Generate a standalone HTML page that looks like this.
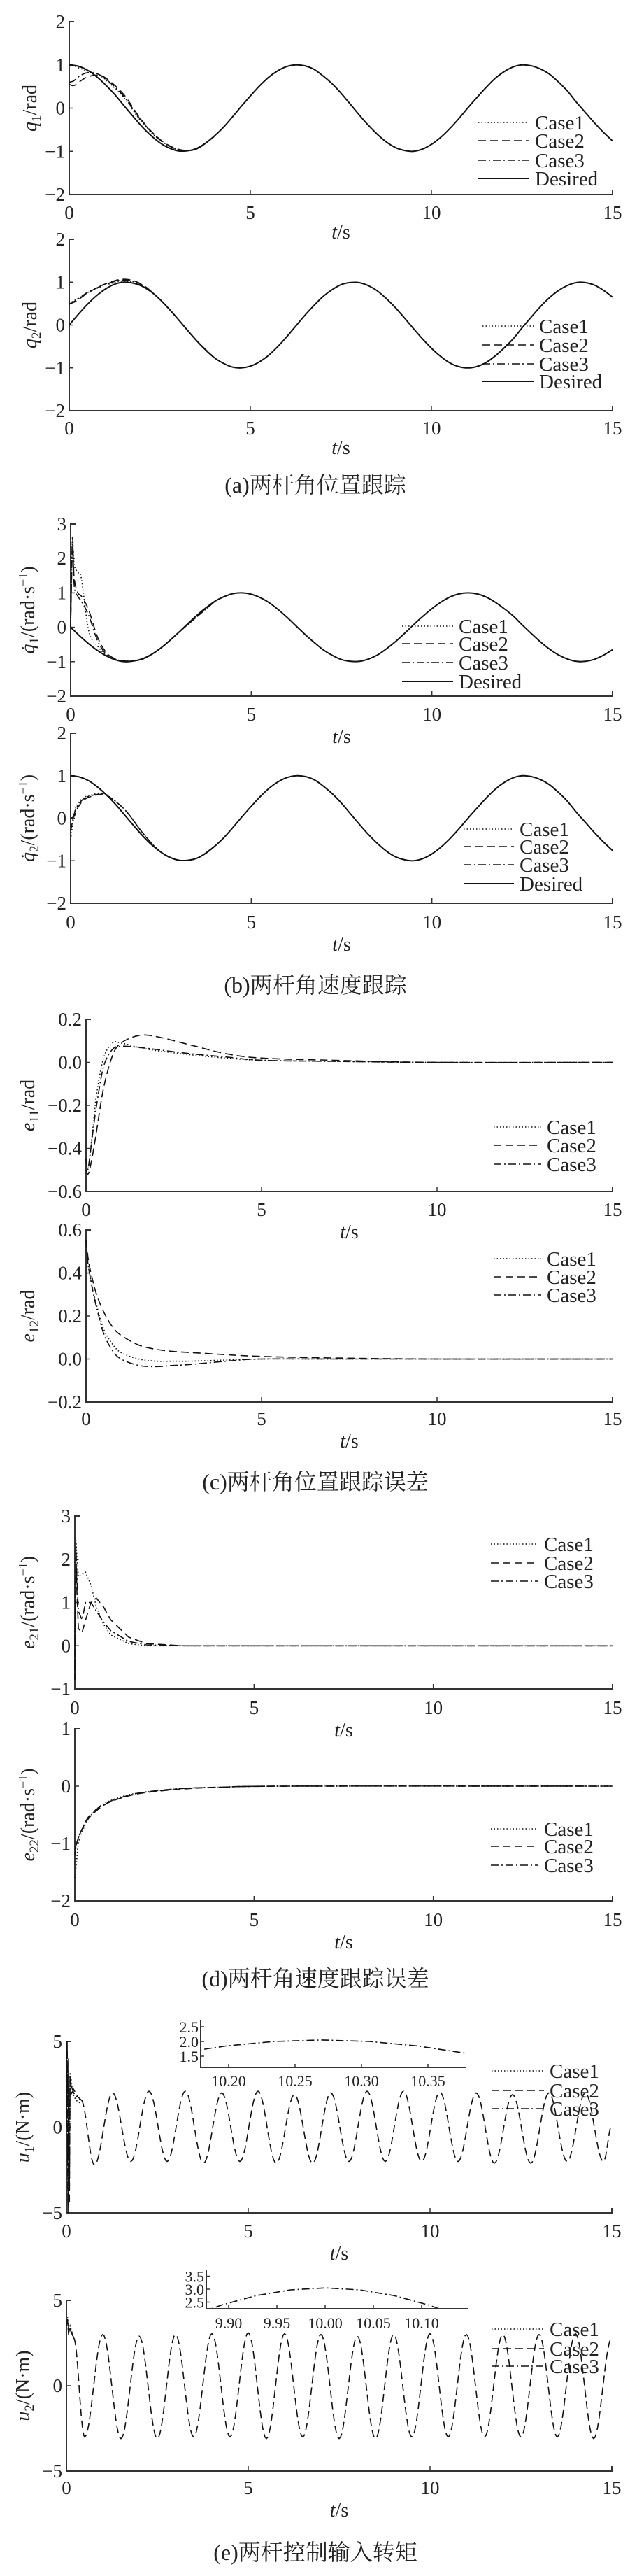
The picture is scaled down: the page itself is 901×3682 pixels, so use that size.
<!DOCTYPE html>
<html><head><meta charset="utf-8"><style>
html,body{margin:0;padding:0;background:#fff;}
svg{display:block;}
text{font-family:"Liberation Serif","Noto Serif CJK SC",serif;fill:#222;}
</style></head><body>
<svg id="fig" width="901" height="3682" viewBox="0 0 901 3682" xmlns="http://www.w3.org/2000/svg"></svg>
<script>
// ---------- data ----------
const cosVals=[1.00,0.97,0.88,0.73,0.54,0.32,0.07,-0.18,-0.42,-0.63,-0.80,-0.92,-0.99,-0.99,-0.94,-0.82,-0.65,-0.45,-0.21,0.04,0.28,0.51,0.71,0.86,0.96,1.00,0.98,0.90,0.75,0.57,0.35,0.10,-0.15,-0.39,-0.60,-0.78,-0.91,-0.98,-1.00,-0.95,-0.84,-0.68,-0.48,-0.25,0.00,0.24,0.47,0.68,0.84,0.95,1.00,0.98,0.91,0.79,0.61,0.40,0.14,-0.10,-0.34,-0.56,-0.76];
const sinVals=[0,0.25,0.48,0.68,0.84,0.95,1.00,0.98,0.91,0.78,0.60,0.38,0.14,-0.11,-0.35,-0.57,-0.76,-0.89,-0.98,-1.00,-0.96,-0.86,-0.71,-0.51,-0.28,-0.03,0.22,0.45,0.66,0.82,0.94,0.99,0.99,0.92,0.80,0.62,0.41,0.17,-0.08,-0.32,-0.54,-0.73,-0.88,-0.97,-1.00,-0.97,-0.88,-0.73,-0.54,-0.33,-0.07,0.18,0.42,0.63,0.80,0.92,0.99,0.99,0.93,0.81,0.65];
const negSinVals=sinVals.map(v=>-v);
const desiredStep=0.25;

const q1T=[0,0.1,0.2,0.3,0.5,0.75,1,1.5,2,2.5,3,3.5,4];
const q1C1=[1.0,0.98,0.95,0.92,0.86,0.8,0.66,0.25,-0.32,-0.74,-0.96,-0.95,-0.66];
const q1C2=[0.55,0.52,0.55,0.62,0.72,0.76,0.7,0.32,-0.28,-0.72,-0.95,-0.95,-0.66];
const q1C3=[0.6,0.62,0.68,0.75,0.82,0.8,0.68,0.28,-0.3,-0.73,-0.96,-0.95,-0.66];
const q2C1=[0.5,0.55,0.6,0.65,0.75,0.85,0.93,1.03,0.93,0.6,0.14,-0.35,-0.76];
const q2C2=[0.5,0.52,0.56,0.62,0.74,0.86,0.96,1.07,0.95,0.6,0.14,-0.35,-0.76];
const q2C3=[0.48,0.53,0.58,0.64,0.76,0.86,0.95,1.05,0.94,0.6,0.14,-0.35,-0.76];

const qd1T=[0,0.05,0.1,0.2,0.3,0.5,0.75,1,1.25,1.5,2,2.5,3,4];
const qd1C1=[0,2.5,1.8,1.6,1.4,-0.1,-0.55,-0.82,-0.93,-0.98,-0.92,-0.6,-0.14,0.76];
const qd1C2=[0,2.2,1.4,1.0,0.9,0.5,-0.3,-0.75,-0.92,-0.98,-0.92,-0.6,-0.14,0.76];
const qd1C3=[0,2.6,1.2,0.9,0.75,0.35,-0.4,-0.8,-0.94,-0.99,-0.92,-0.6,-0.14,0.76];
const qd2T=[0,0.1,0.2,0.4,0.75,1,1.5,2,2.5,3,3.5,4];
const qd2C1=[-0.5,0.1,0.35,0.5,0.58,0.55,0.2,-0.35,-0.8,-0.99,-0.94,-0.65];
const qd2C2=[0,0.05,0.25,0.45,0.55,0.53,0.2,-0.35,-0.8,-0.99,-0.94,-0.65];
const qd2C3=[-0.3,0.1,0.3,0.48,0.56,0.54,0.2,-0.35,-0.8,-0.99,-0.94,-0.65];

const e11T=[0,0.05,0.1,0.2,0.3,0.5,0.75,1,1.5,2,3,4,5,7,10,15];
const e11C1=[-0.45,-0.5,-0.45,-0.3,-0.15,0.02,0.09,0.09,0.07,0.055,0.035,0.02,0.01,0.005,0,0];
const e11C2=[-0.5,-0.52,-0.5,-0.42,-0.32,-0.12,0.03,0.09,0.125,0.12,0.08,0.04,0.02,0.01,0,0];
const e11C3=[-0.45,-0.5,-0.45,-0.32,-0.2,-0.02,0.06,0.075,0.07,0.06,0.04,0.025,0.01,0.005,0,0];
const e12T=[0,0.05,0.1,0.2,0.3,0.5,0.75,1,1.5,2,2.5,3,4,5,7,10,15];
const e12C1=[0.55,0.45,0.4,0.32,0.25,0.14,0.07,0.03,0.0,-0.01,-0.01,-0.01,-0.005,0,0,0,0];
const e12C2=[0.55,0.48,0.43,0.36,0.3,0.22,0.15,0.11,0.065,0.045,0.035,0.03,0.02,0.012,0.005,0,0];
const e12C3=[0.55,0.45,0.4,0.31,0.24,0.12,0.04,0.0,-0.03,-0.035,-0.03,-0.025,-0.01,0,0,0,0];

const e21T=[0,0.03,0.06,0.1,0.2,0.3,0.45,0.6,0.8,1,1.5,2,3,5,15];
const e21C1=[-0.5,2.5,2.0,1.6,1.65,1.7,1.4,0.9,0.5,0.25,0.05,0,0,0,0];
const e21C2=[-0.8,2.2,1.2,0.4,0.3,0.6,1.0,1.1,0.9,0.6,0.2,0.05,0,0,0];
const e21C3=[-0.6,2.3,1.5,0.8,0.6,1.0,1.0,0.8,0.55,0.35,0.1,0.02,0,0,0];
const e22T=[0,0.05,0.1,0.2,0.4,0.7,1,1.5,2,3,4,6,15];
const e22C1=[-1.6,-1.3,-1.0,-0.8,-0.55,-0.35,-0.25,-0.15,-0.1,-0.04,-0.02,0,0];
const e22C2=[-1.2,-1.0,-0.9,-0.75,-0.55,-0.38,-0.27,-0.17,-0.11,-0.05,-0.02,0,0];
const e22C3=[-1.1,-1.0,-0.9,-0.75,-0.52,-0.36,-0.26,-0.16,-0.1,-0.04,-0.02,0,0];

const u1SpikeT=[0,0.02,0.04,0.06,0.08,0.1,0.15,0.2,0.3,0.4];
const u1SpikeC1=[0,4.5,-4,3.5,-3,3.2,2.5,1.8,1.5,1.4];
const u1SpikeC2=[0,5,-5,4,-4.5,3,2,2.2,1.8,1.6];
const u1SpikeC3=[0,4.8,-4.6,3.8,-3.6,2.8,2.3,2.0,1.7,1.6];
const u1ExtT=[0.4,0.77,1.27,1.77,2.27,2.77,3.27,3.77,4.27,4.77,5.27,5.77,6.27,6.77,7.27,7.77,8.27,8.77,9.27,9.77,10.27,10.77,11.27,11.77,12.27,12.77,13.27,13.77,14.27,14.77,15.0];
const u1ExtV=[1.6,-2.2,2.0,-2.0,2.1,-2.0,2.1,-2.1,2.0,-2.0,2.1,-2.1,1.9,-2.1,2.0,-2.0,2.1,-2.0,2.1,-2.0,2.05,-2.0,2.0,-2.1,1.9,-2.1,2.0,-2.0,2.0,-2.0,0.1];
const u2SpikeT=[0,0.03,0.06,0.1,0.2];
const u2SpikeC1=[3.8,4.0,3.2,3.5,2.8];
const u2SpikeC2=[3.5,3.8,3.0,3.3,2.8];
const u2SpikeC3=[3.6,3.9,3.1,3.4,2.8];
const u2ExtT=[0.2,0.5,1,1.5,2,2.5,3,3.5,4,4.5,5,5.5,6,6.5,7,7.5,8,8.5,9,9.5,10,10.5,11,11.5,12,12.5,13,13.5,14,14.5,15];
const u2ExtV=[2.8,-3.0,3.0,-3.1,2.9,-3.1,3.0,-3.0,3.05,-3.0,3.1,-3.1,3.05,-3.0,3.0,-3.1,2.9,-3.1,3.0,-3.0,3.05,-3.0,3.0,-3.0,3.0,-3.0,3.0,-3.0,3.05,-3.1,2.8];

const xTicks=[0,5,10,15];
const legendLabels4=['Case1','Case2','Case3','Desired'];
const legendLabels3=['Case1','Case2','Case3'];
const inset1Ticks=[10.20,10.25,10.30,10.35];
const inset1YTicks=[1.5,2.0,2.5];
const inset2Ticks=[9.90,9.95,10.00,10.05,10.10];
const inset2YTicks=[2.5,3.0,3.5];

// ---------- drawing ----------
const NS='http://www.w3.org/2000/svg';
const svg=document.getElementById('fig');
function mk(tag,attrs,parent){const e=document.createElementNS(NS,tag);for(const k in attrs)e.setAttribute(k,attrs[k]);(parent||svg).appendChild(e);return e;}
const STY={c1:{'stroke-dasharray':'1.5,3'},c2:{'stroke-dasharray':'11,6'},c3:{'stroke-dasharray':'11,4,2,4'},d:{}};
function fmt(v,dec){const s=Math.abs(v).toFixed(dec);return (v<0?'\u2212':'')+s;}
function curvePath(pts){
  if(pts.length<2)return '';
  let d='M'+pts[0][0].toFixed(1)+','+pts[0][1].toFixed(1);
  for(let i=0;i<pts.length-1;i++){
    const p0=pts[i-1]||pts[i],p1=pts[i],p2=pts[i+1],p3=pts[i+2]||p2;
    const c1=[p1[0]+(p2[0]-p0[0])/6,p1[1]+(p2[1]-p0[1])/6];
    const c2=[p2[0]-(p3[0]-p1[0])/6,p2[1]-(p3[1]-p1[1])/6];
    d+='C'+c1[0].toFixed(1)+','+c1[1].toFixed(1)+' '+c2[0].toFixed(1)+','+c2[1].toFixed(1)+' '+p2[0].toFixed(1)+','+p2[1].toFixed(1);
  }
  return d;
}
function linePath(pts){return pts.map((p,i)=>(i?'L':'M')+p[0].toFixed(1)+','+p[1].toFixed(1)).join('');}
function extremaPts(T,V,sx,sy){
  const pts=[];
  for(let i=0;i<T.length-1;i++){
    for(let k=0;k<14;k++){const f=k/14;const v=V[i]+(V[i+1]-V[i])*(1-Math.cos(Math.PI*f))/2;pts.push([sx(T[i]+(T[i+1]-T[i])*f),sy(v)]);}
  }
  pts.push([sx(T[T.length-1]),sy(V[V.length-1])]);
  return pts;
}
function seriesPath(g,d,style,w,name){
  const p=mk('path',Object.assign({d:d,fill:'none',stroke:'#111','stroke-width':w||1.6},STY[style]),g);
  
  
  return p;
}

function panel(cfg){
  const g=mk('g',{});
  
  
  const sx=t=>cfg.x0+t/15*(cfg.x1-cfg.x0);
  const sy=v=>cfg.yA+(v-cfg.vA)*(cfg.yB-cfg.yA)/(cfg.vB-cfg.vA);
  const ax=mk('path',{d:'M'+(cfg.x0+7)+','+cfg.yA+'H'+cfg.x0+'V'+cfg.yB+'H'+cfg.x1+'v-7',fill:'none',stroke:'#333','stroke-width':2},g);
  
  
  cfg.yTicks.forEach(v=>{
    const y=sy(v);
    const tk=mk('line',{x1:cfg.x0,x2:cfg.x0+6,y1:y,y2:y,stroke:'#333','stroke-width':1.5},g);
    
    
    const tl=mk('text',{x:cfg.x0-6,y:y+9,'text-anchor':'end','font-size':27},g);
    
    
    tl.textContent=fmt(v,cfg.dec);
  });
  xTicks.forEach(t=>{
    const x=sx(t);
    if(t>0&&t<15){const tk=mk('line',{x1:x,x2:x,y1:cfg.yB,y2:cfg.yB-7,stroke:'#333','stroke-width':1.5},g);
      
      }
    const tl=mk('text',{x:x,y:cfg.xlabY+10,'text-anchor':'middle','font-size':27},g);
    
    
    tl.textContent=String(t);
  });
  const xt=mk('text',{x:(cfg.x0+cfg.x1)/2,y:cfg.xlabY+(cfg.tsOff||42),'text-anchor':'middle','font-size':28},g);
  
  
  xt.innerHTML='<tspan font-style="italic">t</tspan>/s';
  const yt=mk('text',{x:0,y:0,'text-anchor':'middle','font-size':28,transform:'translate('+(cfg.ylabX+9)+','+((cfg.yA+cfg.yB)/2)+') rotate(-90)'},g);
  
  
  yt.innerHTML=cfg.ylab;
  cfg.series.forEach(s=>{
    let pts;
    if(s.step){pts=s.v.map((v,i)=>[sx(i*s.step),sy(v)]);seriesPath(g,curvePath(pts),s.style,s.w,s.name);}
    else if(s.ext){seriesPath(g,linePath(extremaPts(s.t,s.v,sx,sy)),s.style,s.w,s.name);}
    else if(s.lin){pts=s.t.map((t,i)=>[sx(t),sy(s.v[i])]);seriesPath(g,linePath(pts),s.style,s.w,s.name);}
    else {pts=s.t.map((t,i)=>[sx(t),sy(s.v[i])]);seriesPath(g,curvePath(pts),s.style,s.w,s.name);}
  });
  const lg=mk('g',{},g);
  
  
  cfg.legend.labels.forEach((lab,i)=>{
    const y=cfg.legend.ys[i];
    const st=['c1','c2','c3','d'][i];
    const ln=mk('line',Object.assign({x1:cfg.legend.lx,x2:cfg.legend.tx-8,y1:y,y2:y,stroke:'#111','stroke-width':st==='d'?2:1.6},STY[st]),lg);
    
    
    const tx=mk('text',{x:cfg.legend.tx,y:y+10,'font-size':29},lg);
    
    
    tx.textContent=lab;
  });
  return g;
}

function caption(txt,y,name){
  const c=mk('text',{x:451,y:y+11,'text-anchor':'middle','font-size':32});
  
  
  c.textContent=txt;
}

const lab=(v,sub,unit,dot)=>'<tspan font-style="italic">'+v+(dot?'\u0307':'')+'</tspan><tspan font-size="19" dy="6">'+sub+'</tspan><tspan dy="-6">/'+unit+'</tspan>';
const rads='(rad·s<tspan font-size="18" dy="-10">\u22121</tspan><tspan dy="10">)</tspan>';

panel({name:'q1-panel',x0:99,x1:876,yA:31,vA:2,yB:278,vB:-2,yTicks:[-2,-1,0,1,2],dec:0,xlabY:303,tsOff:38,ylabX:43,ylab:lab('q','1','rad'),
  legend:{labels:legendLabels4,ys:[175,201,229,255],lx:684,tx:765},
  series:[{step:desiredStep,v:cosVals,style:'d',w:2,name:'q1-desired'},{t:q1T,v:q1C1,style:'c1',name:'q1-case1'},{t:q1T,v:q1C2,style:'c2',name:'q1-case2'},{t:q1T,v:q1C3,style:'c3',name:'q1-case3'}]});
panel({name:'q2-panel',x0:99,x1:876,yA:342,vA:2,yB:587,vB:-2,yTicks:[-2,-1,0,1,2],dec:0,xlabY:611,tsOff:38,ylabX:43,ylab:lab('q','2','rad'),
  legend:{labels:legendLabels4,ys:[466,493,520,545],lx:690,tx:771},
  series:[{step:desiredStep,v:sinVals,style:'d',w:2,name:'q2-desired'},{t:q1T,v:q2C1,style:'c1',name:'q2-case1'},{t:q1T,v:q2C2,style:'c2',name:'q2-case2'},{t:q1T,v:q2C3,style:'c3',name:'q2-case3'}]});
caption('(a)两杆角位置跟踪',693,'caption-a');

panel({name:'qd1-panel',x0:101,x1:876,yA:749,vA:3,yB:995,vB:-2,yTicks:[-2,-1,0,1,2,3],dec:0,xlabY:1020,ylabX:40,ylab:lab('q','1','',true)+rads,
  legend:{labels:legendLabels4,ys:[895,920,947,974],lx:575,tx:656},
  series:[{step:desiredStep,v:negSinVals,style:'d',w:2,name:'qd1-desired'},{t:qd1T,v:qd1C1,style:'c1',name:'qd1-case1'},{t:qd1T,v:qd1C2,style:'c2',name:'qd1-case2'},{t:qd1T,v:qd1C3,style:'c3',name:'qd1-case3'}]});
panel({name:'qd2-panel',x0:101,x1:876,yA:1048,vA:2,yB:1291,vB:-2,yTicks:[-2,-1,0,1,2],dec:0,xlabY:1317,ylabX:40,ylab:lab('q','2','',true)+rads,
  legend:{labels:legendLabels4,ys:[1185,1210,1236,1263],lx:663,tx:743},
  series:[{step:desiredStep,v:cosVals,style:'d',w:2,name:'qd2-desired'},{t:qd2T,v:qd2C1,style:'c1',name:'qd2-case1'},{t:qd2T,v:qd2C2,style:'c2',name:'qd2-case2'},{t:qd2T,v:qd2C3,style:'c3',name:'qd2-case3'}]});
caption('(b)两杆角速度跟踪',1408,'caption-b');

panel({name:'e11-panel',x0:123,x1:876,yA:1457,vA:0.2,yB:1703,vB:-0.6,yTicks:[-0.6,-0.4,-0.2,0,0.2],dec:1,xlabY:1728,ylabX:40,ylab:lab('e','11','rad'),
  legend:{labels:legendLabels3,ys:[1611,1637,1664],lx:706,tx:782},
  series:[{t:e11T,v:e11C1,style:'c1',name:'e11-case1'},{t:e11T,v:e11C2,style:'c2',name:'e11-case2'},{t:e11T,v:e11C3,style:'c3',name:'e11-case3'}]});
panel({name:'e12-panel',x0:123,x1:876,yA:1758,vA:0.6,yB:2004,vB:-0.2,yTicks:[-0.2,0,0.2,0.4,0.6],dec:1,xlabY:2027,ylabX:40,ylab:lab('e','12','rad'),
  legend:{labels:legendLabels3,ys:[1799,1825,1851],lx:706,tx:782},
  series:[{t:e12T,v:e12C1,style:'c1',name:'e12-case1'},{t:e12T,v:e12C2,style:'c2',name:'e12-case2'},{t:e12T,v:e12C3,style:'c3',name:'e12-case3'}]});
caption('(c)两杆角位置跟踪误差',2118,'caption-c');

panel({name:'e21-panel',x0:107,x1:876,yA:2167,vA:3,yB:2414,vB:-1,yTicks:[-1,0,1,2,3],dec:0,xlabY:2440,ylabX:40,ylab:lab('e','21','')+rads,
  legend:{labels:legendLabels3,ys:[2207,2234,2260],lx:702,tx:778},
  series:[{t:e21T,v:e21C1,style:'c1',lin:true,name:'e21-case1'},{t:e21T,v:e21C2,style:'c2',lin:true,name:'e21-case2'},{t:e21T,v:e21C3,style:'c3',lin:true,name:'e21-case3'}]});
panel({name:'e22-panel',x0:107,x1:876,yA:2471,vA:1,yB:2717,vB:-2,yTicks:[-2,-1,0,1],dec:0,xlabY:2743,ylabX:40,ylab:lab('e','22','')+rads,
  legend:{labels:legendLabels3,ys:[2614,2639,2666],lx:702,tx:778},
  series:[{t:e22T,v:e22C1,style:'c1',name:'e22-case1'},{t:e22T,v:e22C2,style:'c2',name:'e22-case2'},{t:e22T,v:e22C3,style:'c3',name:'e22-case3'}]});
caption('(d)两杆角速度跟踪误差',2828,'caption-d');

panel({name:'u1-panel',x0:95,x1:875,yA:2918,vA:5,yB:3163,vB:-5,yTicks:[-5,0,5],dec:0,xlabY:3188,ylabX:33,ylab:lab('u','1','(N·m)'),
  legend:{labels:legendLabels3,ys:[2960,2988,3014],lx:703,tx:786},
  series:[{t:u1SpikeT,v:u1SpikeC1,style:'c1',lin:true,name:'u1-case1'},{t:u1SpikeT,v:u1SpikeC3,style:'c3',lin:true,name:'u1-case3'},{t:u1SpikeT,v:u1SpikeC2,style:'c2',lin:true,name:'u1-case2-start'},{t:u1ExtT,v:u1ExtV,ext:true,style:'c2',name:'u1-case2'}]});
panel({name:'u2-panel',x0:95,x1:875,yA:3288,vA:5,yB:3532,vB:-5,yTicks:[-5,0,5],dec:0,xlabY:3555,ylabX:33,ylab:lab('u','2','(N·m)'),
  legend:{labels:legendLabels3,ys:[3329,3357,3382],lx:703,tx:786},
  series:[{t:u2SpikeT,v:u2SpikeC1,style:'c1',lin:true,name:'u2-case1'},{t:u2SpikeT,v:u2SpikeC3,style:'c3',lin:true,name:'u2-case3'},{t:u2SpikeT,v:u2SpikeC2,style:'c2',lin:true,name:'u2-case2-start'},{t:u2ExtT,v:u2ExtV,ext:true,style:'c2',name:'u2-case2'}]});
caption('(e)两杆控制输入转矩',3648,'caption-e');

// ---------- insets ----------
function inset(c){
  const g=mk('g',{});
  
  
  const sx=t=>c.xRef+(t-c.tRef)*c.pxPerT;
  const sy=v=>c.yRef-(v-c.vRef)*c.pxPerV;
  const cid=c.name+'-clip';
  const cp=mk('clipPath',{id:cid},g);
  mk('rect',{x:c.x0,y:c.y0,width:c.x1-c.x0,height:c.y1-c.y0},cp);
  const pts=extremaPts(c.T,c.V,sx,sy);
  const p=mk('path',{d:linePath(pts),fill:'none',stroke:'#111','stroke-width':1.6,'stroke-dasharray':'11,4,2,4','clip-path':'url(#'+cid+')'},g);
  
  
  const ax=mk('path',{d:'M'+c.x0+','+c.y0+'V'+c.y1+'H'+c.x1,fill:'none',stroke:'#333','stroke-width':2},g);
  
  
  c.yTicks.forEach(v=>{
    const y=sy(v);
    mk('line',{x1:c.x0,x2:c.x0+5,y1:y,y2:y,stroke:'#333','stroke-width':1.5},g);
    const t=mk('text',{x:c.x0-3,y:y+8,'text-anchor':'end','font-size':22},g);
    
    
    t.textContent=v.toFixed(1);
  });
  c.xTicks.forEach(v=>{
    const x=sx(v);
    mk('line',{x1:x,x2:x,y1:c.y1,y2:c.y1-5,stroke:'#333','stroke-width':1.5},g);
    const t=mk('text',{x:x,y:c.labY+8,'text-anchor':'middle','font-size':22},g);
    
    
    t.textContent=v.toFixed(2);
  });
}
inset({name:'u1-inset',x0:287,x1:667,y0:2887,y1:2955,xRef:327,tRef:10.20,pxPerT:1900,yRef:2918,vRef:2.0,pxPerV:42,T:u1ExtT,V:u1ExtV,yTicks:inset1YTicks,xTicks:inset1Ticks,labY:2974});
inset({name:'u2-inset',x0:295,x1:670,y0:3244,y1:3300,xRef:327,tRef:9.90,pxPerT:1380,yRef:3272,vRef:3.0,pxPerV:37,T:u2ExtT,V:u2ExtV,yTicks:inset2YTicks,xTicks:inset2Ticks,labY:3320});
</script>
</body></html>
